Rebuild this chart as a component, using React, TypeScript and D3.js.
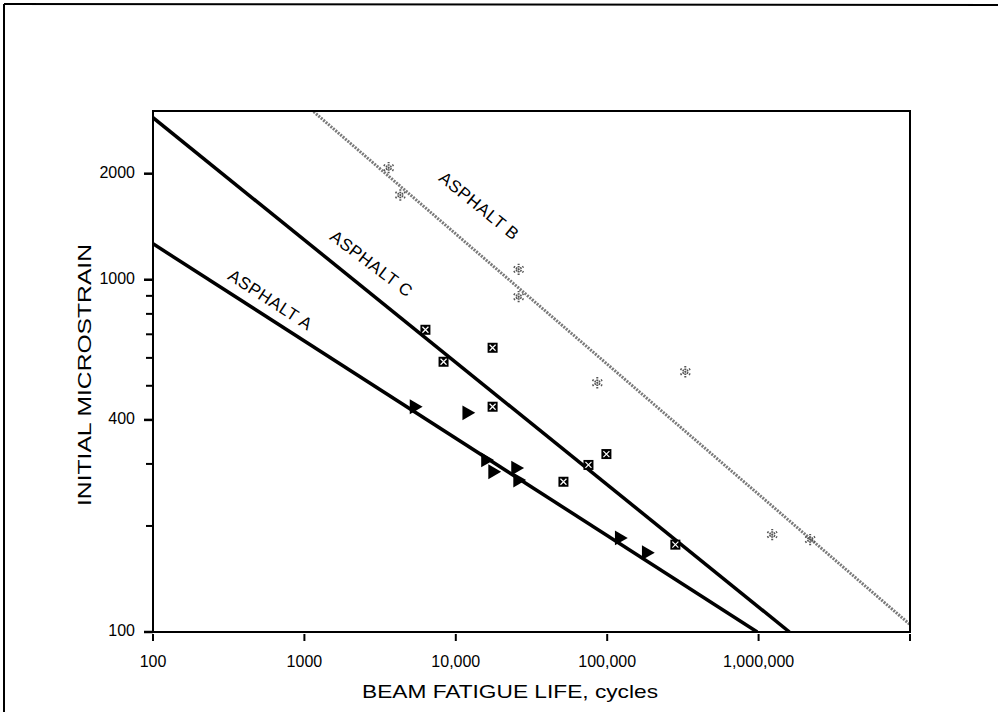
import React from 'react'
import * as d3 from 'd3'

// fatigue life (cycles) vs initial microstrain, three asphalt mixes
const aCycles = [5300, 11800, 15700, 17500, 24800, 25600, 120000, 181000]
const aStrain = [436, 419, 308, 285, 292, 270, 185, 168]

const bCycles = [3600, 4300, 26000, 26000, 86000, 328000, 1230000, 2190000]
const bStrain = [2080, 1740, 1070, 895, 510, 548, 189, 183]

const cCycles = [6300, 8300, 17500, 17500, 51400, 75200, 98800, 282000]
const cStrain = [721, 585, 641, 436, 267, 298, 320, 177]

// fitted lines, two end points each
const lineACycles = [100, 980000]
const lineAStrain = [1265, 100]
const lineBCycles = [1150, 10000000]
const lineBStrain = [3000, 105]
const lineCCycles = [100, 1600000]
const lineCStrain = [2885, 100]

const xTicks = [100, 1000, 10000, 100000, 1000000, 10000000]
const xTickLabels = ['100', '1000', '10,000', '100,000', '1,000,000', '']
const yTicks = [200, 300, 500, 600, 700, 800, 900]
const yLabelTicks = [100, 400, 1000, 2000]

const labels = [
  { text: 'ASPHALT A', cycles: 590, strain: 870, angle: 33 },
  { text: 'ASPHALT C', cycles: 2740, strain: 1103, angle: 37 },
  { text: 'ASPHALT B', cycles: 14100, strain: 1610, angle: 39 }
]

const W = 998
const H = 723
const margin = { left: 153, right: 88, top: 111, bottom: 91 }
const font = '"Liberation Sans", Arial, sans-serif'

function App() {
  const x = d3.scaleLog()
    .domain([100, 10000000])
    .range([margin.left, W - margin.right])
  const y = d3.scaleLog()
    .domain([100, 3013])
    .range([H - margin.bottom, margin.top])

  const x0 = margin.left, x1 = W - margin.right
  const y0 = H - margin.bottom, y1 = margin.top

  const line = d3.line<number[]>()
    .x(d => x(d[0]))
    .y(d => y(d[1]))
  const pts = (cs: number[], ss: number[]) => cs.map((c, i) => [c, ss[i]])

  const tri = d3.symbol().type(d3.symbolTriangle).size(95)()
  const star = d3.symbol().type(d3.symbolAsterisk).size(90)()

  return (
    <svg width={W} height={H} style={{ position: 'absolute', left: 0, top: 0, background: '#fff' }}
      fontFamily={font}>
      <defs>
        <clipPath id="plot">
          <rect x={x0} y={y1} width={x1 - x0} height={y0 - y1} />
        </clipPath>
      </defs>

      {/* page frame */}
      <line x1={4} y1={4} x2={W} y2={5} stroke="#000" strokeWidth={2} />
      <line x1={4} y1={4} x2={4} y2={712} stroke="#000" strokeWidth={2} />

      {/* fitted lines */}
      <g clipPath="url(#plot)" fill="none">
        <path d={line(pts(lineBCycles, lineBStrain)) || ''} stroke="#7a7a7a" strokeWidth={3}
          strokeDasharray="2 1.2" />
        <path d={line(pts(lineCCycles, lineCStrain)) || ''} stroke="#000" strokeWidth={3.5} />
        <path d={line(pts(lineACycles, lineAStrain)) || ''} stroke="#000" strokeWidth={3.5} />
      </g>

      {/* points */}
      <g>
        {aCycles.map((c, i) => (
          <path key={'a' + i} d={tri || ''} fill="#000"
            transform={`translate(${x(c)},${y(aStrain[i])}) rotate(90)`} />
        ))}
        {cCycles.map((c, i) => (
          <g key={'c' + i} transform={`translate(${x(c)},${y(cStrain[i])})`}>
            <rect x={-5} y={-5} width={10} height={10} fill="#000" />
            <path d="M-3,-3L3,3M3,-3L-3,3" stroke="#fff" strokeWidth={1.2} />
          </g>
        ))}
        {bCycles.map((c, i) => (
          <path key={'b' + i} d={star || ''} stroke="#555" strokeWidth={2} fill="none"
            strokeDasharray="1.5 1"
            transform={`translate(${x(c)},${y(bStrain[i])})`} />
        ))}
      </g>

      {/* line labels */}
      {labels.map(l => (
        <text key={l.text} x={x(l.cycles)} y={y(l.strain)} fontSize={17} letterSpacing={0.6}
          textAnchor="middle" dominantBaseline="middle"
          transform={`rotate(${l.angle},${x(l.cycles)},${y(l.strain)})`}>
          {l.text}
        </text>
      ))}

      {/* plot frame */}
      <rect x={x0} y={y1} width={x1 - x0} height={y0 - y1} fill="none" stroke="#000" strokeWidth={2} />

      {/* x axis */}
      {xTicks.map((t, i) => (
        <g key={'xt' + t}>
          <line x1={x(t)} x2={x(t)} y1={y0 + 2} y2={y0 + 9} stroke="#000" strokeWidth={2} />
          <text x={x(t)} y={y0 + 35} fontSize={16} textAnchor="middle">{xTickLabels[i]}</text>
        </g>
      ))}
      <text x={510} y={y0 + 66} fontSize={19} textAnchor="middle" textLength={296}
        lengthAdjust="spacingAndGlyphs">
        BEAM FATIGUE LIFE, cycles
      </text>

      {/* y axis */}
      {yTicks.map(t => (
        <line key={'yt' + t} x1={x0 - 7} x2={x0} y1={y(t)} y2={y(t)} stroke="#000" strokeWidth={2} />
      ))}
      {yLabelTicks.map(t => (
        <g key={'yl' + t}>
          <line x1={x0 - 9} x2={x0} y1={y(t)} y2={y(t)} stroke="#000" strokeWidth={2.5} />
          <text x={x0 - 18} y={y(t)} fontSize={16} textAnchor="end" dominantBaseline="middle">{t}</text>
        </g>
      ))}
      <text transform={`translate(86,375) rotate(-90)`} fontSize={19} textAnchor="middle"
        dominantBaseline="middle" textLength={262} lengthAdjust="spacingAndGlyphs">
        INITIAL MICROSTRAIN
      </text>
    </svg>
  )
}

export default App
